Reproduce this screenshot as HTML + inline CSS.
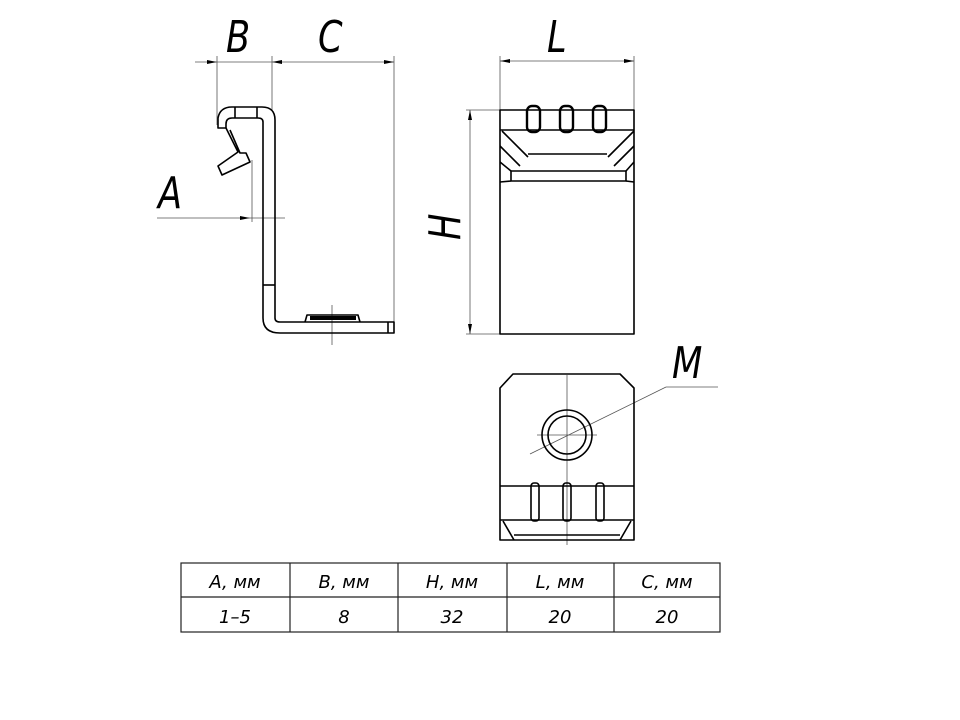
<!DOCTYPE html>
<html><head><meta charset="utf-8"><style>
html,body{margin:0;padding:0;background:#fff}
svg{display:block}
text{font-family:"DejaVu Sans","Liberation Sans",sans-serif;font-style:italic}
</style></head><body>
<svg width="960" height="720" viewBox="0 0 960 720" xmlns="http://www.w3.org/2000/svg">
<defs>
<marker id="ar" viewBox="0 0 10 4" refX="10" refY="2" markerWidth="10" markerHeight="4" orient="auto-start-reverse" markerUnits="userSpaceOnUse"><path d="M0,0 L10,2 L0,4z" fill="#000"/></marker>
</defs>
<g stroke="#555" stroke-width="0.8" fill="none">
<line x1="217" y1="56" x2="217" y2="125"/>
<line x1="272" y1="56" x2="272" y2="110"/>
<line x1="394" y1="56" x2="394" y2="325"/>
<line x1="195" y1="62" x2="217" y2="62" marker-end="url(#ar)"/>
<line x1="217" y1="62" x2="272" y2="62"/>
<line x1="272" y1="62" x2="394" y2="62" marker-start="url(#ar)" marker-end="url(#ar)"/>
<line x1="157" y1="218" x2="250" y2="218" marker-end="url(#ar)"/>
<line x1="252" y1="160" x2="252" y2="222"/>
<line x1="250" y1="218" x2="285" y2="218"/>
<line x1="332" y1="305" x2="332" y2="345"/>
<line x1="500" y1="56" x2="500" y2="110"/>
<line x1="634" y1="56" x2="634" y2="110"/>
<line x1="500" y1="61" x2="634" y2="61" marker-start="url(#ar)" marker-end="url(#ar)"/>
<line x1="466" y1="110" x2="500" y2="110"/>
<line x1="466" y1="334" x2="500" y2="334"/>
<line x1="470" y1="110" x2="470" y2="334" marker-start="url(#ar)" marker-end="url(#ar)"/>
<line x1="567" y1="375" x2="567" y2="545"/>
<line x1="537" y1="435" x2="597" y2="435"/>
<line x1="530" y1="454" x2="666" y2="387"/>
<line x1="666" y1="387" x2="718" y2="387"/>
</g>
<g fill="#000" font-size="44">
<text transform="translate(226,52) scale(0.8,1)">B</text>
<text transform="translate(318,52) scale(0.8,1)">C</text>
<text transform="translate(158,208) scale(0.8,1)">A</text>
<text transform="translate(547,52) scale(0.8,1)">L</text>
<text transform="translate(672,378) scale(0.8,1)">M</text>
<text transform="translate(460,240) rotate(-90) scale(0.8,1)" x="0" y="0">H</text>
</g>
<g stroke="#000" stroke-width="1.6" fill="none" stroke-linejoin="round">
<path d="M218,128 L218,118 Q220,107 232,107 L262,107 Q275,107 275,120 L275,318 Q275,322 280,322 L394,322 L394,333 L280,333 Q263,333 263,318 L263,122 Q263,118 258,118 L232,118 Q226,118 226,124 L226,128 Z"/>
<path d="M226,128 L238,152 L218,166 L222,175 L250,162 L246,153 L240,153 L230,130"/>
<line x1="263" y1="285" x2="275" y2="285"/>
<line x1="235" y1="107" x2="235" y2="118"/>
<line x1="257" y1="107" x2="257" y2="118"/>
<line x1="388" y1="322" x2="388" y2="333"/>
<path d="M305,322 L307,315 L358,315 L360,322"/>
<rect x="500" y="110" width="134" height="224"/>
<line x1="500" y1="130" x2="634" y2="130"/>
<g stroke-width="2.4">
<rect x="527" y="106" width="13" height="26" rx="5"/>
<rect x="560" y="106" width="13" height="26" rx="5"/>
<rect x="593" y="106" width="13" height="26" rx="5"/>
</g>
<path d="M502,131 L528,157 M500,146 L520,166 M528,154 L607,154 M634,131 L608,157 M634,146 L614,166"/>
<rect x="511" y="171" width="115" height="10"/>
<path d="M500,162 L511,171 M500,182 L511,181 M634,162 L626,171 M634,182 L626,181"/>
<path d="M513,374 L620,374 L634,388 L634,540 L500,540 L500,388 Z"/>
<circle cx="567" cy="435" r="25"/>
<circle cx="567" cy="435" r="19"/>
<line x1="500" y1="486" x2="634" y2="486"/>
<line x1="500" y1="520" x2="634" y2="520"/>
<rect x="531" y="483" width="8" height="38" rx="3"/>
<rect x="563" y="483" width="8" height="38" rx="3"/>
<rect x="596" y="483" width="8" height="38" rx="3"/>
<path d="M503,521 L514,540 M631,521 L620,540 M514,535 L620,535"/>
</g>
<g fill="#000" stroke="#000" stroke-width="4">
<line x1="310" y1="318" x2="356" y2="318"/>
</g>
<g stroke="#222" stroke-width="1.2" fill="none">
<rect x="181" y="563" width="539" height="69"/>
<line x1="181" y1="597" x2="720" y2="597"/>
<line x1="290" y1="563" x2="290" y2="632"/>
<line x1="398" y1="563" x2="398" y2="632"/>
<line x1="507" y1="563" x2="507" y2="632"/>
<line x1="614" y1="563" x2="614" y2="632"/>
</g>
<g fill="#000" font-size="18" text-anchor="middle">
<text x="235" y="588">A,  мм</text>
<text x="344" y="588">B,  мм</text>
<text x="452" y="588">H,  мм</text>
<text x="560" y="588">L,  мм</text>
<text x="667" y="588">C,  мм</text>
<text x="235" y="623">1–5</text>
<text x="344" y="623">8</text>
<text x="452" y="623">32</text>
<text x="560" y="623">20</text>
<text x="667" y="623">20</text>
</g>
</svg>
</body></html>
